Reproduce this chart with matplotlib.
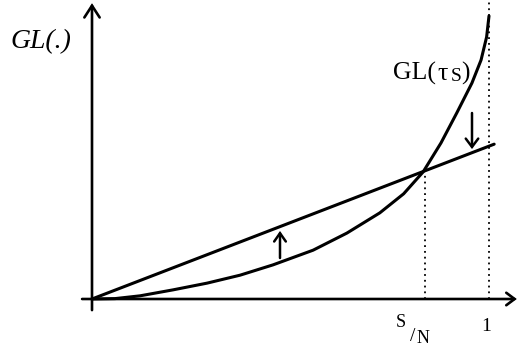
import matplotlib
matplotlib.use("Agg")
import matplotlib.pyplot as plt
from matplotlib.patches import FancyArrowPatch

# ---- data ----
x_curve = [0, 0.058, 0.121, 0.204, 0.290, 0.373, 0.456, 0.557, 0.642, 0.725,
           0.785, 0.834, 0.879, 0.919, 0.957, 0.980, 0.994, 1.000]
y_curve = [0, 0.001, 0.008, 0.023, 0.040, 0.060, 0.086, 0.123, 0.166, 0.217,
           0.265, 0.320, 0.393, 0.469, 0.544, 0.602, 0.660, 0.713]
x_line = [0, 1.013]
y_line = [0, 0.390]
s_over_n = 0.839
y_cross = 0.325
x_one = 1.0

fig = plt.figure(figsize=(5.23, 3.49), dpi=100)
ax = fig.add_axes([0, 0, 1, 1])
ax.set_xlim(-92 / 397, 431 / 397)
ax.set_ylim(-50 / 397, 299 / 397)
ax.axis("off")

lw = 2.2
ax.plot(x_curve, y_curve, color="black", lw=lw, solid_capstyle="round",
        solid_joinstyle="round")
ax.plot(x_line, y_line, color="black", lw=lw, solid_capstyle="round")

# dotted guides
ax.plot([s_over_n, s_over_n], [0, y_cross], color="black", lw=1.3,
        linestyle=(0, (1, 2.2)))
ax.plot([x_one, x_one], [0, 0.76], color="black", lw=1.3,
        linestyle=(0, (1, 2.2)))

def arrow(p0, p1, hl, hw, lwid):
    a = FancyArrowPatch(p0, p1, arrowstyle=f"->,head_length={hl},head_width={hw}",
                        mutation_scale=10, lw=lwid, color="black",
                        shrinkA=0, shrinkB=0, joinstyle="miter")
    ax.add_patch(a)

# axes
arrow((-0.025, 0), (1.07, 0), 0.6, 0.45, 1.9)
arrow((0, -0.028), (0, 0.745), 0.85, 0.55, 1.9)

# small direction arrows
arrow(((280 - 92) / 397, (299 - 258) / 397), ((280 - 92) / 397, (299 - 231) / 397), 0.6, 0.42, 1.8)
arrow(((472 - 92) / 397, (299 - 113) / 397), ((472 - 92) / 397, (299 - 149) / 397), 0.6, 0.45, 1.8)

serif = "Liberation Serif"

def px(xp, yp):
    return (xp - 92) / 397, (299 - yp) / 397

ax.text(*px(10, 48), "GL(.)", fontfamily=serif, fontstyle="italic",
        fontsize=20, ha="left", va="baseline")

ax.text(*px(393, 80), "GL(", fontfamily=serif, fontsize=18.5,
        ha="left", va="baseline")
ax.text(*px(437, 80), "τ", fontfamily=serif, fontsize=18.5,
        ha="left", va="baseline")
ax.text(*px(451, 81), "S", fontfamily=serif, fontsize=14,
        ha="left", va="baseline")
ax.text(*px(461, 80), ")", fontfamily=serif, fontsize=18.5,
        ha="left", va="baseline")

ax.text(*px(396, 327), "S", fontfamily=serif, fontsize=13,
        ha="left", va="baseline")
ax.text(*px(410, 341), "/", fontfamily=serif, fontsize=14,
        ha="left", va="baseline")
ax.text(*px(417, 343), "N", fontfamily=serif, fontsize=13,
        ha="left", va="baseline")
ax.text(*px(486, 331), "1", fontfamily=serif, fontsize=14,
        ha="center", va="baseline")

fig.savefig("out.png", dpi=100)
